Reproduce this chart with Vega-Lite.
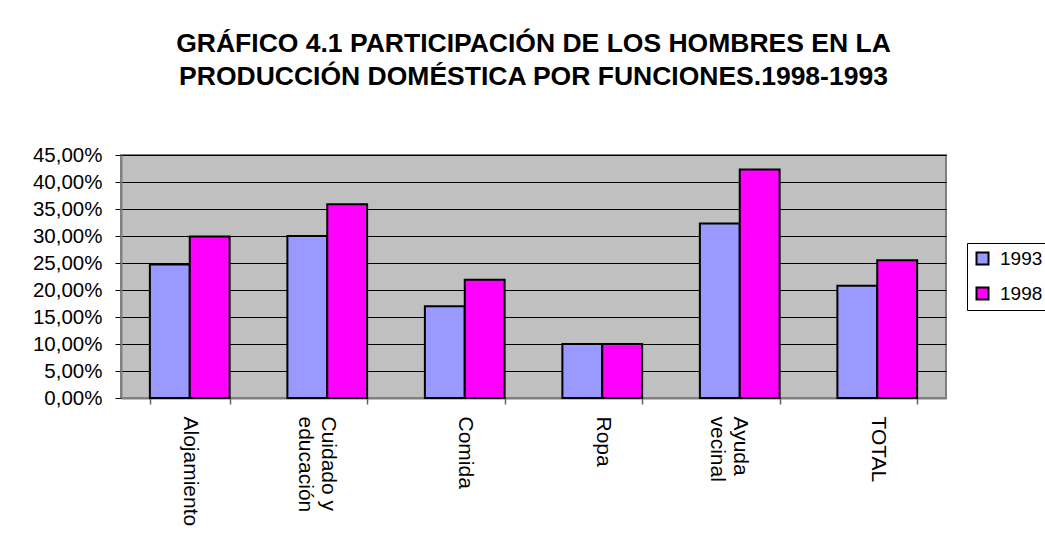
{
  "$schema": "https://vega.github.io/schema/vega-lite/v6.json",
  "autosize": {"type": "none"},
  "padding": {"left": 121, "top": 155, "right": 99, "bottom": 146},
  "width": 825,
  "height": 243,
  "background": "white",
  "title": {
    "text": ["GRÁFICO 4.1 PARTICIPACIÓN DE LOS HOMBRES EN LA", "PRODUCCIÓN DOMÉSTICA POR FUNCIONES.1998-1993"],
    "font": "Liberation Sans",
    "fontSize": 26.5,
    "fontWeight": "bold",
    "color": "#000000",
    "anchor": "middle",
    "lineHeight": 33,
    "offset": 55
  },
  "data": {
    "values": [
      {"categoria": "Alojamiento", "anio": "1993", "valor": 0.247},
      {"categoria": "Alojamiento", "anio": "1998", "valor": 0.299},
      {"categoria": "Cuidado y educación", "anio": "1993", "valor": 0.300},
      {"categoria": "Cuidado y educación", "anio": "1998", "valor": 0.359},
      {"categoria": "Comida", "anio": "1993", "valor": 0.170},
      {"categoria": "Comida", "anio": "1998", "valor": 0.219},
      {"categoria": "Ropa", "anio": "1993", "valor": 0.100},
      {"categoria": "Ropa", "anio": "1998", "valor": 0.100},
      {"categoria": "Ayuda vecinal", "anio": "1993", "valor": 0.323},
      {"categoria": "Ayuda vecinal", "anio": "1998", "valor": 0.423},
      {"categoria": "TOTAL", "anio": "1993", "valor": 0.208},
      {"categoria": "TOTAL", "anio": "1998", "valor": 0.255}
    ]
  },
  "mark": {"type": "bar", "stroke": "#000000", "strokeWidth": 2},
  "encoding": {
    "x": {
      "field": "categoria",
      "type": "nominal",
      "sort": null,
      "scale": {"paddingInner": 0.42, "paddingOuter": 0.21},
      "axis": {
        "title": null,
        "labelAngle": 90,
        "labelAlign": "left",
        "labelBaseline": "middle",
        "labelFont": "Liberation Sans",
        "labelFontSize": 21,
        "labelColor": "#000000",
        "labelPadding": 12,
        "tickBand": "extent",
        "tickSize": 6,
        "tickColor": "#606060",
        "tickWidth": 1.5,
        "domainColor": "#808080",
        "domainWidth": 2,
        "labelExpr": "datum.label == 'Cuidado y educación' ? ['Cuidado y', 'educación'] : datum.label == 'Ayuda vecinal' ? ['Ayuda', 'vecinal'] : datum.label"
      }
    },
    "xOffset": {"field": "anio", "type": "nominal"},
    "y": {
      "field": "valor",
      "type": "quantitative",
      "scale": {"domain": [0, 0.45], "nice": false},
      "axis": {
        "title": null,
        "values": [0, 0.05, 0.1, 0.15, 0.2, 0.25, 0.3, 0.35, 0.4, 0.45],
        "labelExpr": "replace(format(datum.value, '.2%'), '.', ',')",
        "labelFont": "Liberation Sans",
        "labelFontSize": 20.5,
        "labelColor": "#000000",
        "labelPadding": 13,
        "tickSize": 6,
        "tickColor": "#000000",
        "domainColor": "#808080",
        "domainWidth": 2,
        "grid": true,
        "gridColor": "#000000",
        "gridWidth": 1,
        "gridOpacity": 1
      }
    },
    "color": {
      "field": "anio",
      "type": "nominal",
      "scale": {"domain": ["1993", "1998"], "range": ["#9999FF", "#FF00FF"]},
      "legend": {
        "title": null,
        "orient": "none",
        "legendX": 846,
        "legendY": 88,
        "symbolType": "square",
        "symbolSize": 144,
        "symbolStrokeColor": "#000000",
        "symbolStrokeWidth": 2,
        "symbolOpacity": 1,
        "strokeColor": "#000000",
        "fillColor": "#FFFFFF",
        "padding": 6,
        "rowPadding": 14,
        "labelOffset": 8,
        "labelFont": "Liberation Sans",
        "labelFontSize": 19,
        "labelColor": "#000000"
      }
    }
  },
  "config": {
    "view": {"fill": "#C0C0C0", "stroke": "#808080", "strokeWidth": 2},
    "axis": {"gridDash": []}
  }
}
